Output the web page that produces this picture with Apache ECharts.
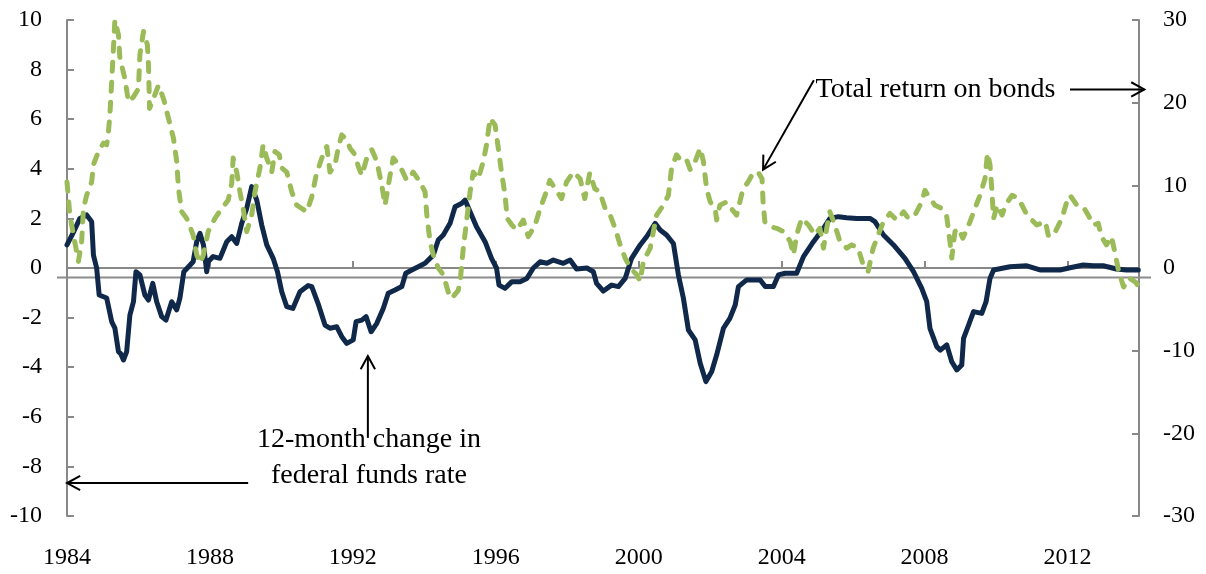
<!DOCTYPE html>
<html>
<head>
<meta charset="utf-8">
<style>
  html, body { margin: 0; padding: 0; background: #fff; }
  #chart { width: 1206px; height: 574px; }
</style>
<script src="https://cdn.jsdelivr.net/npm/echarts/dist/echarts.min.js"></script>
</head>
<body>
<div id="chart"></div>
<script>
// 12-month change in federal funds rate (left axis)
const fedYears = [1984.00,1984.20,1984.36,1984.55,1984.69,1984.74,1984.83,1984.90,1985.11,1985.25,1985.34,1985.44,1985.50,1985.58,1985.67,1985.76,1985.86,1985.93,1986.04,1986.18,1986.28,1986.40,1986.51,1986.65,1986.77,1986.93,1987.07,1987.16,1987.27,1987.40,1987.53,1987.63,1987.72,1987.82,1987.91,1987.95,1988.09,1988.28,1988.47,1988.61,1988.75,1988.89,1989.03,1989.17,1989.31,1989.45,1989.59,1989.77,1989.89,1990.01,1990.15,1990.32,1990.52,1990.75,1990.85,1991.04,1991.22,1991.36,1991.55,1991.69,1991.83,1992.01,1992.09,1992.25,1992.37,1992.51,1992.67,1992.85,1992.99,1993.18,1993.37,1993.48,1993.65,1993.83,1994.02,1994.25,1994.39,1994.53,1994.72,1994.86,1995.05,1995.14,1995.28,1995.46,1995.70,1995.88,1996.02,1996.09,1996.26,1996.45,1996.68,1996.87,1997.05,1997.24,1997.43,1997.61,1997.89,1998.08,1998.26,1998.55,1998.73,1998.82,1999.01,1999.24,1999.43,1999.62,1999.80,2000.04,2000.22,2000.46,2000.60,2000.78,2000.97,2001.11,2001.25,2001.39,2001.58,2001.72,2001.88,2002.04,2002.18,2002.37,2002.55,2002.70,2002.79,2003.02,2003.40,2003.54,2003.77,2003.91,2004.10,2004.42,2004.61,2004.89,2005.17,2005.35,2005.59,2005.82,2006.10,2006.47,2006.61,2006.85,2007.13,2007.45,2007.69,2007.92,2008.06,2008.15,2008.34,2008.44,2008.62,2008.76,2008.90,2009.04,2009.09,2009.23,2009.37,2009.60,2009.72,2009.83,2009.93,2010.21,2010.39,2010.86,2011.23,2011.79,2012.07,2012.44,2012.72,2013.00,2013.37,2013.65,2013.98];
const fedChange = [0.93,1.5,2.0,2.14,1.87,0.52,0.0,-1.09,-1.21,-2.16,-2.42,-3.37,-3.45,-3.71,-3.37,-1.9,-1.36,-0.15,-0.28,-1.09,-1.29,-0.62,-1.36,-1.96,-2.10,-1.36,-1.69,-1.21,-0.15,0.05,0.25,1.06,1.40,0.93,-0.15,0.25,0.46,0.39,1.06,1.26,0.99,1.80,2.41,3.28,2.74,1.73,0.93,0.39,-0.15,-0.96,-1.56,-1.63,-0.96,-0.71,-0.75,-1.49,-2.30,-2.43,-2.37,-2.77,-3.04,-2.90,-2.16,-2.10,-1.96,-2.57,-2.23,-1.63,-1.02,-0.89,-0.75,-0.21,-0.08,0.05,0.19,0.52,1.13,1.33,1.80,2.47,2.61,2.74,2.27,1.66,1.06,0.39,0.0,-0.69,-0.82,-0.55,-0.55,-0.42,0.0,0.25,0.19,0.32,0.19,0.32,-0.04,0.0,-0.15,-0.62,-0.93,-0.69,-0.75,-0.42,0.39,0.93,1.26,1.80,1.53,1.33,0.99,-0.28,-1.22,-2.50,-2.90,-3.84,-4.58,-4.18,-3.51,-2.43,-2.03,-1.49,-0.75,-0.48,-0.48,-0.75,-0.75,-0.28,-0.21,-0.21,0.46,1.06,1.60,2.00,2.07,2.03,2.00,2.00,1.87,1.33,0.93,0.39,-0.15,-0.82,-1.36,-2.43,-3.17,-3.31,-3.10,-3.78,-4.11,-3.91,-2.84,-2.30,-1.76,-1.83,-1.36,-0.42,-0.08,0.0,0.05,0.09,-0.08,-0.08,0.01,0.12,0.09,0.09,-0.04,-0.08,-0.08];

// Total return on bonds (right axis)
const bondYears = [1984.00,1984.08,1984.18,1984.32,1984.41,1984.46,1984.55,1984.69,1984.74,1984.88,1985.02,1985.11,1985.16,1985.20,1985.25,1985.30,1985.34,1985.44,1985.48,1985.62,1985.72,1985.86,1986.00,1986.04,1986.14,1986.25,1986.28,1986.31,1986.42,1986.56,1986.70,1986.84,1986.98,1987.07,1987.12,1987.21,1987.35,1987.53,1987.63,1987.72,1987.82,1987.95,1988.14,1988.33,1988.51,1988.61,1988.65,1988.75,1988.84,1988.93,1989.03,1989.17,1989.26,1989.40,1989.49,1989.59,1989.73,1989.82,1989.94,1990.01,1990.15,1990.29,1990.43,1990.57,1990.71,1990.85,1990.97,1991.13,1991.27,1991.36,1991.50,1991.59,1991.69,1991.83,1991.92,1992.06,1992.15,1992.25,1992.39,1992.53,1992.67,1992.81,1992.90,1993.04,1993.13,1993.32,1993.51,1993.69,1993.88,1994.02,1994.07,1994.16,1994.25,1994.39,1994.53,1994.67,1994.76,1994.95,1995.01,1995.09,1995.18,1995.28,1995.37,1995.51,1995.65,1995.74,1995.84,1995.98,1996.07,1996.16,1996.26,1996.32,1996.45,1996.59,1996.77,1996.91,1997.10,1997.24,1997.38,1997.51,1997.66,1997.84,1997.98,1998.17,1998.36,1998.49,1998.63,1998.77,1998.91,1999.06,1999.20,1999.34,1999.48,1999.62,1999.76,1999.94,2000.04,2000.13,2000.32,2000.50,2000.69,2000.83,2000.92,2001.06,2001.20,2001.34,2001.44,2001.58,2001.72,2001.81,2001.90,2002.00,2002.14,2002.18,2002.27,2002.46,2002.55,2002.74,2002.83,2002.92,2003.06,2003.20,2003.34,2003.45,2003.48,2003.53,2003.67,2003.86,2004.05,2004.24,2004.33,2004.42,2004.56,2004.75,2004.93,2005.07,2005.17,2005.26,2005.35,2005.49,2005.63,2005.82,2005.96,2006.14,2006.28,2006.42,2006.56,2006.70,2006.85,2007.03,2007.22,2007.41,2007.55,2007.73,2007.92,2008.01,2008.15,2008.29,2008.48,2008.62,2008.71,2008.76,2008.85,2008.95,2009.07,2009.27,2009.41,2009.55,2009.69,2009.76,2009.83,2009.88,2009.93,2010.03,2010.17,2010.26,2010.45,2010.63,2010.82,2010.96,2011.14,2011.38,2011.47,2011.66,2011.84,2011.98,2012.07,2012.26,2012.44,2012.58,2012.72,2012.86,2012.95,2013.09,2013.23,2013.34,2013.43,2013.57,2013.72,2013.90,2014.00];
const bondReturn = [10.4,6.4,4.0,0.8,3.2,7.2,8.8,10.4,12.5,14.1,15.1,14.9,16.5,18.5,22.5,26.6,30.0,28.2,25.4,22.9,20.1,20.7,21.7,25.8,28.6,27.0,24.6,19.3,20.5,22.1,20.5,18.1,15.7,12.9,9.6,6.8,6.0,4.0,1.6,0.6,1.6,4.4,6.0,7.2,8.2,10.2,13.3,11.6,9.2,7.2,4.4,6.4,9.2,12.1,14.9,13.3,11.6,14.1,13.7,12.1,11.6,9.2,7.6,7.2,6.8,8.6,11.2,13.3,14.7,11.6,12.5,14.5,16.1,15.5,14.5,13.7,12.3,11.2,13.3,14.3,12.9,10.0,7.6,11.2,13.3,12.3,10.6,11.6,10.4,9.2,6.4,3.2,1.6,0.0,-0.8,-2.9,-3.7,-2.7,-1.3,2.4,5.6,9.2,11.6,10.8,12.9,14.9,18.1,17.3,14.5,11.6,8.8,6.0,5.2,4.6,5.8,3.8,5.2,7.2,8.8,10.6,9.6,8.4,10.4,11.6,10.8,8.4,11.5,9.6,9.2,7.2,6.4,4.8,2.8,1.2,0.0,-0.8,-1.6,0.8,2.4,6.4,7.6,8.8,12.1,13.7,12.9,13.1,11.9,12.9,14.5,12.9,9.6,8.0,7.2,5.8,7.6,8.0,7.4,6.4,8.0,9.6,10.4,11.5,11.6,10.8,8.0,5.6,5.0,4.8,4.4,3.2,1.6,4.0,6.0,5.2,4.0,4.8,2.4,4.8,6.8,5.2,3.2,2.4,2.8,2.4,0.4,-0.4,2.4,4.0,5.6,6.6,5.8,6.8,6.0,6.4,8.0,9.4,8.4,7.6,7.2,6.2,3.2,1.2,4.4,4.8,3.6,5.6,7.2,8.8,10.8,13.9,12.5,9.6,6.0,7.6,6.4,7.6,8.8,8.4,6.8,6.0,5.2,5.6,3.8,4.4,6.0,8.0,8.8,7.6,7.4,6.4,5.2,5.4,3.8,2.8,3.8,1.6,-0.4,-2.3,-1.2,-1.7,-2.3];

const xTicks = [1984, 1988, 1992, 1996, 2000, 2004, 2008, 2012];
const leftTicks = [-10, -8, -6, -4, -2, 0, 2, 4, 6, 8, 10];
const rightTicks = [-30, -20, -10, 0, 10, 20, 30];

const fedLabel = ['12-month change in', 'federal funds rate'];
const bondLabel = 'Total return on bonds';

const FONT = "'Liberation Serif', 'DejaVu Serif', serif";
const AXIS_GREY = '#888888';

const fedData = fedYears.map((y, i) => [y, fedChange[i]]);
const bondData = bondYears.map((y, i) => [y, bondReturn[i]]);

const chart = echarts.init(document.getElementById('chart'));

const axisText = { color: '#000', fontFamily: FONT, fontSize: 24 };

chart.setOption({
    animation: false,
    grid: { left: 67, right: 67, top: 20, bottom: 58, containLabel: false },
    xAxis: {
        type: 'value',
        min: xTicks[0],
        max: 2014,
        interval: 4,
        splitLine: { show: false },
        axisLine: { show: true, lineStyle: { color: AXIS_GREY, width: 2 } },
        axisTick: { show: true, inside: true, length: 7, lineStyle: { color: AXIS_GREY, width: 2 } },
        axisLabel: Object.assign({}, axisText, {
            margin: 30,
            showMaxLabel: false,
            formatter: v => xTicks.includes(v) ? String(v) : ''
        })
    },
    yAxis: [{
        type: 'value',
        position: 'left',
        min: leftTicks[0],
        max: leftTicks[leftTicks.length - 1],
        interval: 2,
        splitLine: { show: false },
        axisLine: { show: true, onZero: false, lineStyle: { color: AXIS_GREY, width: 2 } },
        axisTick: { show: true, inside: true, length: 7, lineStyle: { color: AXIS_GREY, width: 2 } },
        axisLabel: Object.assign({}, axisText, { margin: 25 })
    }, {
        type: 'value',
        position: 'right',
        min: rightTicks[0],
        max: rightTicks[rightTicks.length - 1],
        interval: 10,
        splitLine: { show: false },
        axisLine: { show: true, onZero: false, lineStyle: { color: AXIS_GREY, width: 2 } },
        axisTick: { show: true, inside: true, length: 7, lineStyle: { color: AXIS_GREY, width: 2 } },
        axisLabel: Object.assign({}, axisText, { margin: 24 })
    }],
    series: [{
        name: 'fed',
        type: 'line',
        yAxisIndex: 0,
        data: fedData,
        showSymbol: false,
        lineStyle: { color: '#10294a', width: 5, join: 'round', cap: 'round' },
        z: 2
    }, {
        name: 'bonds',
        type: 'line',
        yAxisIndex: 1,
        data: bondData,
        showSymbol: false,
        lineStyle: { color: '#9bbb59', width: 5, type: [9, 11], cap: 'round', join: 'round' },
        z: 3
    }]
});

// annotations, anchored in data space
const toPx = (seriesIndex, pt) => chart.convertToPixel({ seriesIndex: seriesIndex }, pt);

function arrow(from, to) {
    const dx = to[0] - from[0], dy = to[1] - from[1];
    const ang = Math.atan2(dy, dx);
    const len = 15, spread = 0.5;
    const h1 = [to[0] - len * Math.cos(ang - spread), to[1] - len * Math.sin(ang - spread)];
    const h2 = [to[0] - len * Math.cos(ang + spread), to[1] - len * Math.sin(ang + spread)];
    const st = { stroke: '#000', lineWidth: 2 };
    return [
        { type: 'line', shape: { x1: from[0], y1: from[1], x2: to[0], y2: to[1] }, style: st, z: 10 },
        { type: 'polyline', shape: { points: [h1, to, h2] }, style: Object.assign({ fill: null }, st), z: 10 }
    ];
}

const zeroLeft = toPx(0, [1984, -0.38]);
const zeroRight = toPx(0, [2014, -0.38]);
const bondTextPt = toPx(1, [2004.95, 21.6]);
const fedTextPt = toPx(0, [1992.45, -7.65]);

const graphics = [
    { type: 'line', shape: { x1: zeroLeft[0] - 10, y1: zeroLeft[1], x2: zeroRight[0] + 12, y2: zeroRight[1] },
      style: { stroke: '#8c8c8c', lineWidth: 2 }, z: 1 },
    { type: 'text', x: bondTextPt[0], y: bondTextPt[1],
      style: { text: bondLabel, font: '28px ' + FONT, fill: '#000', textAlign: 'left', textVerticalAlign: 'middle' }, z: 10 },
    { type: 'text', x: fedTextPt[0], y: fedTextPt[1],
      style: { text: fedLabel.join('\n'), font: '28px ' + FONT, fill: '#000', textAlign: 'center', textVerticalAlign: 'middle', lineHeight: 36 }, z: 10 }
]
.concat(arrow(toPx(1, [2004.9, 22.7]), toPx(1, [2003.48, 11.9])))
.concat(arrow(toPx(1, [2012.07, 21.6]), toPx(1, [2014.15, 21.6])))
.concat(arrow(toPx(0, [1992.42, -6.85]), toPx(0, [1992.42, -3.55])))
.concat(arrow(toPx(0, [1989.07, -8.67]), toPx(0, [1984.0, -8.67])));

chart.setOption({ graphic: graphics });
</script>
</body>
</html>
